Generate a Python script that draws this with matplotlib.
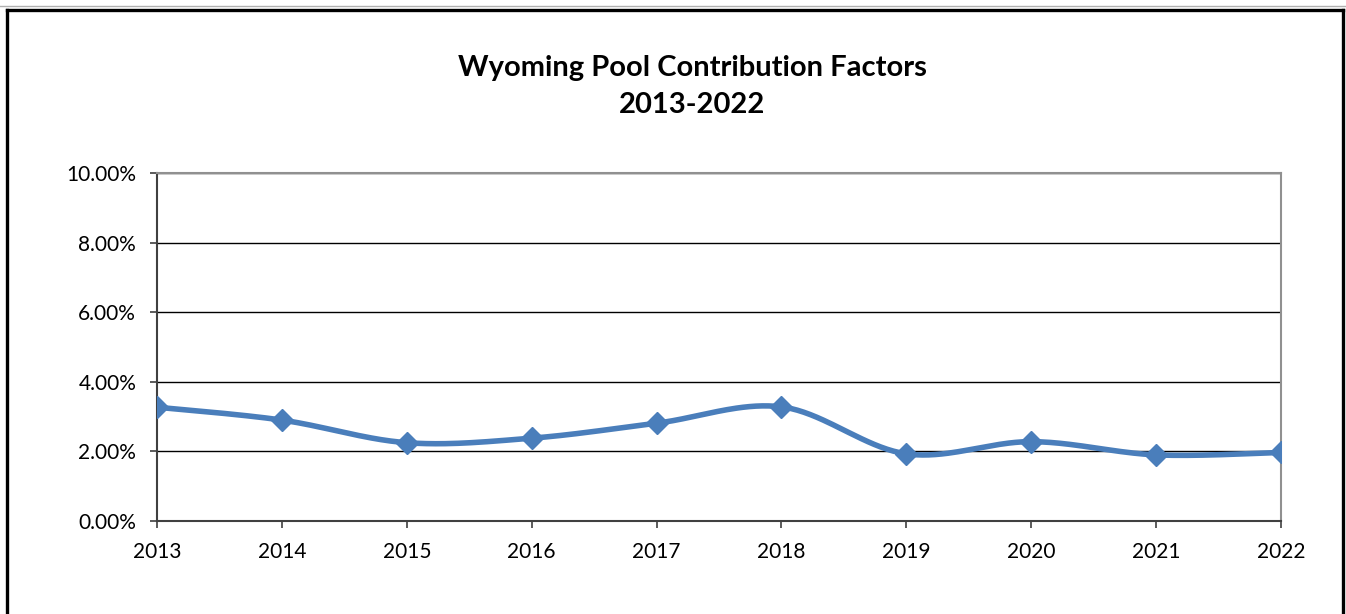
import matplotlib
matplotlib.use("Agg")
import matplotlib.pyplot as plt
import numpy as np
from matplotlib.lines import Line2D
from matplotlib.ticker import FuncFormatter

plt.rcParams['font.family'] = ['Lato', 'DejaVu Sans']

# datos
years = [2013, 2014, 2015, 2016, 2017, 2018, 2019, 2020, 2021, 2022]
factors = [3.27, 2.90, 2.25, 2.38, 2.81, 3.28, 1.93, 2.28, 1.90, 1.97]  # en %

title_lines = ["Wyoming Pool Contribution Factors", "2013-2022"]
y_ticks = [0, 2, 4, 6, 8, 10]

blue = "#4A7EBB"


def smooth(x, y, n=40):
    # curva tipo Catmull-Rom (como la linea suavizada de Excel)
    x = np.asarray(x, float)
    y = np.asarray(y, float)
    px = np.concatenate([[x[0]], x, [x[-1]]])
    py = np.concatenate([[y[0]], y, [y[-1]]])
    xs, ys = [], []
    for i in range(1, len(px) - 2):
        p0, p1, p2, p3 = [np.array([px[k], py[k]]) for k in (i - 1, i, i + 1, i + 2)]
        c1 = p1 + (p2 - p0) / 6
        c2 = p2 - (p3 - p1) / 6
        t = np.linspace(0, 1, n)[:, None]
        b = (1 - t) ** 3 * p1 + 3 * (1 - t) ** 2 * t * c1 + 3 * (1 - t) * t ** 2 * c2 + t ** 3 * p2
        xs.append(b[:, 0])
        ys.append(b[:, 1])
    return np.concatenate(xs), np.concatenate(ys)


fig = plt.figure(figsize=(13.46, 6.14), dpi=100)
ax = fig.add_axes([157 / 1346, 93 / 614, (1281 - 157) / 1346, (521 - 173) / 614])

sx, sy = smooth(years, factors)
ax.plot(sx, sy, color=blue, lw=4, solid_capstyle='round', zorder=3)
ax.plot(years, factors, ls='none', marker='D', ms=11, color=blue, zorder=4)

ax.set_xlim(years[0], years[-1])
ax.set_ylim(0, 10)
ax.set_xticks(years)
ax.set_yticks(y_ticks)
ax.yaxis.set_major_formatter(FuncFormatter(lambda v, p: "{:.2f}%".format(v)))
ax.grid(axis='y', color='black', lw=1)
ax.set_axisbelow(True)

for s in ['top', 'right']:
    ax.spines[s].set_color('#909090')
    ax.spines[s].set_linewidth(1.5)
for s in ['left', 'bottom']:
    ax.spines[s].set_color('#404040')
    ax.spines[s].set_linewidth(1.5)
ax.tick_params(axis='both', direction='out', length=5, width=1.2, color='#404040', labelsize=15)
ax.tick_params(axis='y', pad=10)
ax.tick_params(axis='x', pad=10)

fig.text(692 / 1346, 1 - 68 / 614, title_lines[0], ha='center', va='center', fontsize=21, fontweight='bold')
fig.text(692 / 1346, 1 - 105 / 614, title_lines[1], ha='center', va='center', fontsize=21, fontweight='bold')

# marco negro alrededor de la figura
W, H = 1346, 614
fig.add_artist(Line2D([0, 1], [1 - 5.5 / H, 1 - 5.5 / H], color='#b0b0b0', lw=1, transform=fig.transFigure))
fig.add_artist(Line2D([7 / W, 1343 / W], [1 - 10 / H, 1 - 10 / H], color='black', lw=2.4, transform=fig.transFigure))
fig.add_artist(Line2D([7 / W, 7 / W], [0, 1 - 10 / H], color='black', lw=2.4, transform=fig.transFigure))
fig.add_artist(Line2D([1343 / W, 1343 / W], [0, 1 - 10 / H], color='black', lw=2.4, transform=fig.transFigure))

fig.savefig("out.png", dpi=100)
